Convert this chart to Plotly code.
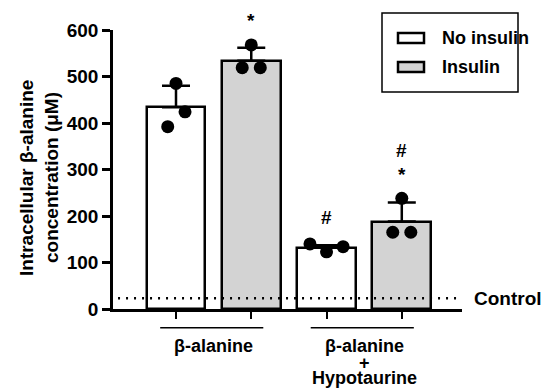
import plotly.graph_objects as go

# ---- data ----
groups = [["β-alanine"], ["β-alanine", "+", "Hypotaurine"]]
series_names = ["No insulin", "Insulin"]
means_no_insulin = [434, 132]
means_insulin = [534, 188]
sd_no_insulin = [46, 5]
sd_insulin = [28, 41]
points_no_insulin = [[485, 392, 424], [140, 123, 134]]
points_insulin = [[568, 519, 519], [238, 165, 165]]
jitter = [[0.0, -0.11, 0.12], [-0.22, 0.0, 0.22]]
jitter_ins = [[0.0, -0.12, 0.12], [0.0, -0.12, 0.12]]
control_level = 23
sig_no_insulin = [[], ["#"]]
sig_insulin = [["*"], ["*", "#"]]
y_ticks = [0, 100, 200, 300, 400, 500, 600]
y_title = ["Intracellular β-alanine", "concentration (μM)"]

FONT = "Liberation Sans, Arial, sans-serif"
BW = 0.78
PW, PH = 349, 279  # plot area in px

x_no = [2 * i for i in range(len(groups))]
x_in = [2 * i + 1 for i in range(len(groups))]

fig = go.Figure()
fig.add_trace(go.Bar(x=x_no, y=means_no_insulin, width=BW, name=series_names[0],
                     marker=dict(color="white", line=dict(color="black", width=2.5)),
                     error_y=dict(type="data", array=sd_no_insulin, symmetric=False, arrayminus=[0, 0],
                                  color="black", thickness=2.5, width=14)))
fig.add_trace(go.Bar(x=x_in, y=means_insulin, width=BW, name=series_names[1],
                     marker=dict(color="#d3d3d3", line=dict(color="black", width=2.5)),
                     error_y=dict(type="data", array=sd_insulin, symmetric=False, arrayminus=[0, 0],
                                  color="black", thickness=2.5, width=14)))

px, py = [], []
for i in range(len(groups)):
    for j, v in enumerate(points_no_insulin[i]):
        px.append(x_no[i] + jitter[i][j]); py.append(v)
    for j, v in enumerate(points_insulin[i]):
        px.append(x_in[i] + jitter_ins[i][j]); py.append(v)
fig.add_trace(go.Scatter(x=px, y=py, mode="markers", showlegend=False,
                         marker=dict(color="black", size=13)))

# control line
fig.add_shape(type="line", xref="x", yref="y", x0=-0.77, x1=3.78, y0=control_level, y1=control_level,
              line=dict(color="black", width=2.5, dash="2px,6px"))
fig.add_annotation(xref="paper", yref="y", x=(472 - 113) / PW, y=control_level, text="<b>Control</b>",
                   showarrow=False, xanchor="left", yanchor="middle",
                   font=dict(family=FONT, size=19, color="black"))

# significance marks
def add_sig(xc, top, marks, base_shift):
    for k, m in enumerate(marks):
        fig.add_annotation(x=xc, y=top, text="<b>" + m + "</b>", showarrow=False,
                           yanchor="middle", yshift=base_shift + 24 * k,
                           font=dict(family=FONT, size=19, color="black"))

for i in range(len(groups)):
    add_sig(x_no[i], means_no_insulin[i] + sd_no_insulin[i], sig_no_insulin[i], 28)
    add_sig(x_in[i], max(points_insulin[i] + [means_insulin[i] + sd_insulin[i]]), sig_insulin[i], 24)

# group labels
for i, lines in enumerate(groups):
    fig.add_shape(type="line", xref="x", yref="paper", x0=2 * i - 0.21, x1=2 * i + 1.16,
                  y0=-18.7 / PH, y1=-18.7 / PH, line=dict(color="black", width=1.5))
    for k, t in enumerate(lines):
        yc = [346, 363, 378][k]
        fig.add_annotation(xref="x", yref="paper", x=2 * i + 0.5, y=(309 - yc) / PH, text="<b>" + t + "</b>",
                           showarrow=False, yanchor="middle",
                           font=dict(family=FONT, size=18, color="black"))

# y-axis title
for k, t in enumerate(y_title):
    xc = [26, 51][k]
    fig.add_annotation(xref="paper", yref="paper", x=(xc - 113) / PW, y=(309 - 178) / PH, textangle=-90,
                       text="<b>" + t + "</b>", xanchor="center", yanchor="middle",
                       showarrow=False, font=dict(family=FONT, size=19, color="black"))

# legend (manual)
fig.add_shape(type="rect", xref="paper", yref="paper", x0=(382 - 113) / PW, x1=(518 - 113) / PW,
              y0=(309 - 92) / PH, y1=(309 - 13) / PH,
              line=dict(color="black", width=1.5), fillcolor="white")
colors = ["white", "#d3d3d3"]
ys = [38, 67]
for k in range(2):
    fig.add_shape(type="rect", xref="paper", yref="paper", x0=(398 - 113) / PW, x1=(424 - 113) / PW,
                  y0=(309 - ys[k] - 5) / PH, y1=(309 - ys[k] + 5) / PH,
                  line=dict(color="black", width=2.5), fillcolor=colors[k])
    fig.add_annotation(xref="paper", yref="paper", x=(440 - 113) / PW, y=(309 - ys[k]) / PH,
                       text="<b>" + series_names[k] + "</b>",
                       showarrow=False, xanchor="left", yanchor="middle",
                       font=dict(family=FONT, size=18, color="black"))

fig.update_layout(
    width=544, height=391, margin=dict(l=113, r=82, t=30, b=82),
    paper_bgcolor="white", plot_bgcolor="white", showlegend=False, bargap=0,
    xaxis=dict(range=[-0.837, 3.80], tickvals=[0, 1, 2, 3], ticktext=["", "", "", ""],
               ticks="outside", ticklen=7, tickwidth=2, tickcolor="black",
               showline=True, linecolor="black", linewidth=2.5, showgrid=False, zeroline=False),
    yaxis=dict(range=[0, 600], tickvals=y_ticks, ticks="outside", ticklen=8, tickwidth=2.5,
               tickcolor="black", showline=True, linecolor="black", linewidth=2.5,
               showgrid=False, zeroline=False,
               tickfont=dict(family=FONT, size=19, color="black", weight="bold")),
    font=dict(family=FONT, color="black"),
)
fig.write_html("out.html", config={"displayModeBar": False},
               post_script="document.body.style.margin='0';")
